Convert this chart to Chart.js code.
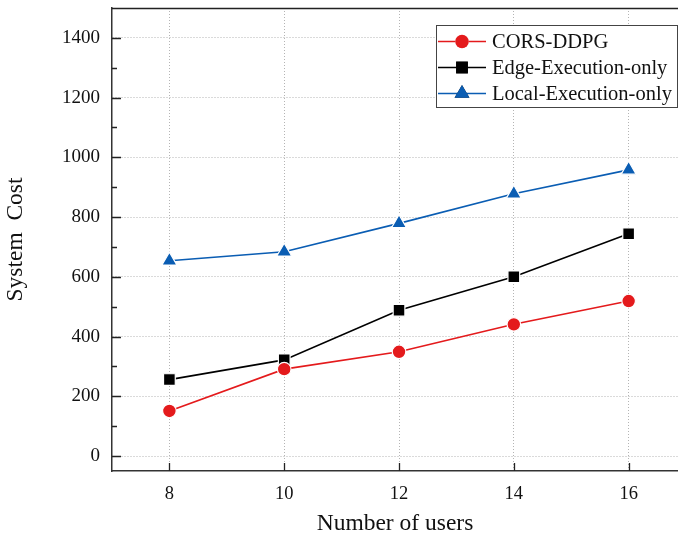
<!DOCTYPE html>
<html>
<head>
<meta charset="utf-8">
<script src="https://cdn.jsdelivr.net/npm/chart.js@4/dist/chart.umd.min.js"></script>
<style>
  html, body { margin: 0; padding: 0; background: #fff; }
  #wrap { width: 678px; height: 539px; }
</style>
</head>
<body>
<div id="wrap"><canvas id="myChart" width="678" height="539"></canvas></div>
<script>
// Chart data
const users = [8, 10, 12, 14, 16];
const corsDdpg = [151, 291, 349, 441, 519];
const edgeOnly = [256, 322, 488, 600, 744];
const localOnly = [654, 684, 779, 878, 958];

const xTicks = [8, 10, 12, 14, 16];
const yTicks = [0, 200, 400, 600, 800, 1000, 1200, 1400];
const yMinorTicks = [100, 300, 500, 700, 900, 1100, 1300];

const serif = "'Liberation Serif', 'Times New Roman', serif";

function toPoints(values) {
    return users.map((u, i) => ({ x: u, y: values[i] }));
}

// Inward tick marks, top frame and legend box
const framePlugin = {
    id: "frame",
    afterDraw(chart) {
        const { ctx, chartArea, scales } = chart;
        const xs = scales.x;
        const ys = scales.y;

        ctx.save();
        ctx.strokeStyle = "#222";
        ctx.lineWidth = 1.3;

        // top frame line
        ctx.beginPath();
        ctx.moveTo(chartArea.left, chartArea.top + 0.5);
        ctx.lineTo(chartArea.right, chartArea.top + 0.5);
        ctx.stroke();

        // y ticks
        ctx.beginPath();
        yTicks.forEach((v) => {
            const y = Math.round(ys.getPixelForValue(v)) + 0.5;
            ctx.moveTo(chartArea.left, y);
            ctx.lineTo(chartArea.left + 9, y);
        });
        yMinorTicks.forEach((v) => {
            const y = Math.round(ys.getPixelForValue(v)) + 0.5;
            ctx.moveTo(chartArea.left, y);
            ctx.lineTo(chartArea.left + 5, y);
        });
        // x ticks
        xTicks.forEach((v) => {
            const x = Math.round(xs.getPixelForValue(v)) + 0.5;
            ctx.moveTo(x, chartArea.bottom);
            ctx.lineTo(x, chartArea.bottom - 8);
        });
        ctx.stroke();

        // legend
        const boxRight = chartArea.right - 1;
        const boxLeft = boxRight - 241;
        const boxTop = chartArea.top + 17;
        const boxH = 82;
        ctx.fillStyle = "#fff";
        ctx.fillRect(boxLeft, boxTop, boxRight - boxLeft, boxH);
        ctx.strokeStyle = "#444";
        ctx.lineWidth = 1;
        ctx.strokeRect(boxLeft + 0.5, boxTop + 0.5, boxRight - boxLeft, boxH);

        ctx.font = "20.5px " + serif;
        ctx.textBaseline = "middle";
        ctx.textAlign = "left";
        chart.data.datasets.forEach((ds, i) => {
            const cy = boxTop + 16.5 + i * 26;
            ctx.strokeStyle = ds.borderColor;
            ctx.lineWidth = 1.5;
            ctx.beginPath();
            ctx.moveTo(boxLeft + 2, cy);
            ctx.lineTo(boxLeft + 50, cy);
            ctx.stroke();
            Chart.helpers.drawPoint(ctx, {
                pointStyle: ds.pointStyle,
                radius: ds.pointRadius,
                borderWidth: 0,
                rotation: 0
            }, boxLeft + 26, cy);
            ctx.fillStyle = ds.backgroundColor;
            ctx.fill();
            ctx.fillStyle = "#111";
            ctx.fillText(ds.label, boxLeft + 56, cy + 1);
        });
        ctx.restore();
    }
};

function initChart() {
    const ctx = document.getElementById("myChart");

    const data = {
        datasets: [
            {
                label: "CORS-DDPG",
                data: toPoints(corsDdpg),
                borderColor: "#e41a1c",
                backgroundColor: "#e41a1c",
                pointStyle: "circle",
                pointRadius: 6.8,
            },
            {
                label: "Edge-Execution-only",
                data: toPoints(edgeOnly),
                borderColor: "#000000",
                backgroundColor: "#000000",
                pointStyle: "rect",
                pointRadius: 8.3,
            },
            {
                label: "Local-Execution-only",
                data: toPoints(localOnly),
                borderColor: "#0a5db3",
                backgroundColor: "#0a5db3",
                pointStyle: "triangle",
                pointRadius: 8.6,
            },
        ],
    };
    data.datasets.forEach((ds) => {
        ds.borderWidth = 1.6;
        ds.pointBorderColor = "#ffffff";
        ds.pointBorderWidth = 1.2;
        ds.pointBackgroundColor = ds.backgroundColor;
        ds.pointHoverRadius = ds.pointRadius;
        ds.tension = 0;
    });

    const config = {
        type: "line",
        data: data,
        options: {
            responsive: false,
            animation: false,
            layout: { autoPadding: false, padding: { top: 8, right: 0, left: 0, bottom: 0 } },
            plugins: {
                legend: { display: false },
                tooltip: { enabled: false },
            },
            scales: {
                x: {
                    type: "linear",
                    min: 7,
                    max: 16.86,
                    afterBuildTicks: (scale) => {
                        scale.ticks = xTicks.map((v) => ({ value: v }));
                    },
                    afterFit: (scale) => {
                        scale.height = 68;
                        scale.paddingLeft = 0;
                        scale.paddingRight = 0;
                    },
                    grid: {
                        color: "#b4b4b4",
                        lineWidth: 1,
                        drawTicks: false,
                    },
                    border: { display: true, color: "#333", width: 1.5, dash: [1, 2] },
                    ticks: {
                        padding: 12,
                        color: "#111",
                        font: { family: serif, size: 18.5 },
                        maxRotation: 0,
                        callback: (v) => String(v),
                    },
                    title: {
                        display: true,
                        text: "Number of users",
                        color: "#111",
                        font: { family: serif, size: 23.5 },
                        padding: { top: 0, bottom: 1 },
                    },
                },
                y: {
                    min: -50,
                    max: 1500,
                    afterBuildTicks: (scale) => {
                        scale.ticks = yTicks.map((v) => ({ value: v }));
                    },
                    afterFit: (scale) => {
                        scale.width = 112;
                        scale.paddingTop = 0;
                        scale.paddingBottom = 0;
                    },
                    grid: {
                        color: "#b4b4b4",
                        lineWidth: 1,
                        drawTicks: false,
                    },
                    border: { display: true, color: "#333", width: 1.5, dash: [1, 2] },
                    ticks: {
                        padding: 12,
                        color: "#111",
                        font: { family: serif, size: 19 },
                        callback: (v) => String(v),
                    },
                    title: {
                        display: true,
                        text: "System  Cost",
                        color: "#111",
                        font: { family: serif, size: 23.5 },
                        padding: { top: 2, bottom: 0 },
                    },
                },
            },
        },
        plugins: [framePlugin],
    };

    return new Chart(ctx, config);
}

initChart();
</script>
</body>
</html>
